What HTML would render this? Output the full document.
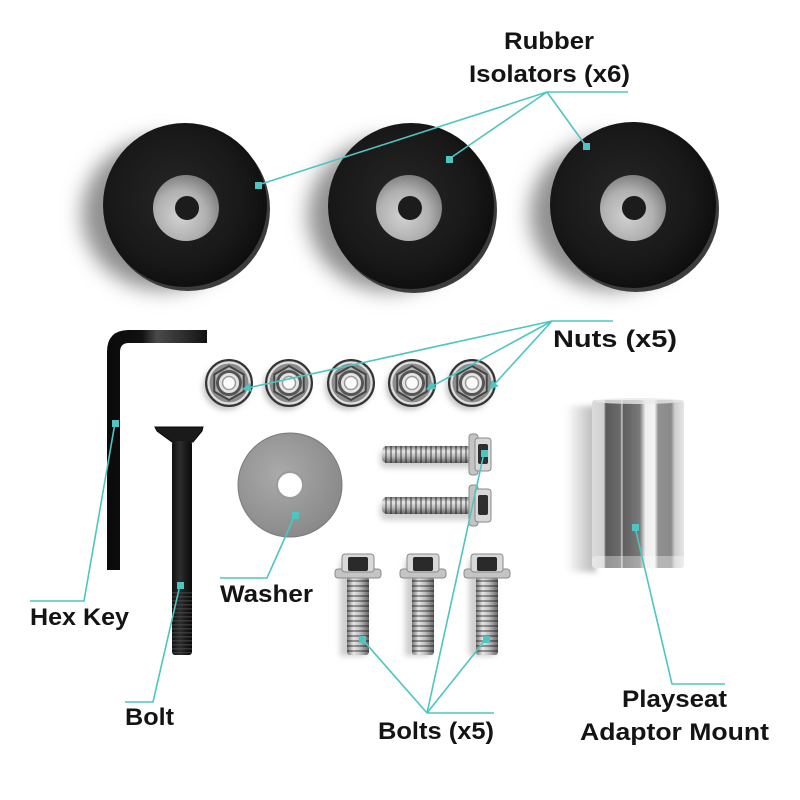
<!DOCTYPE html>
<html><head><meta charset="utf-8">
<style>
html,body{margin:0;padding:0;background:#fff;}
svg{display:block;}
text{font-family:"Liberation Sans",Arial,sans-serif;font-weight:bold;fill:#141414;font-size:24px;}
</style></head>
<body>
<svg width="800" height="800" viewBox="0 0 800 800" xmlns="http://www.w3.org/2000/svg">
<defs>
  <filter id="b10" x="-50%" y="-50%" width="200%" height="200%"><feGaussianBlur stdDeviation="10"/></filter>
  <filter id="b5" x="-50%" y="-50%" width="200%" height="200%"><feGaussianBlur stdDeviation="5"/></filter>
  <filter id="b3" x="-50%" y="-50%" width="200%" height="200%"><feGaussianBlur stdDeviation="3"/></filter>
  <radialGradient id="rub" cx="45%" cy="45%" r="60%">
    <stop offset="0" stop-color="#262626"/><stop offset="0.7" stop-color="#181818"/><stop offset="1" stop-color="#0c0c0c"/>
  </radialGradient>
  <radialGradient id="hub" cx="42%" cy="62%" r="65%">
    <stop offset="0" stop-color="#d2d2d2"/><stop offset="0.6" stop-color="#b0b0b0"/><stop offset="1" stop-color="#7a7a7a"/>
  </radialGradient>
  <radialGradient id="wash" cx="40%" cy="40%" r="70%">
    <stop offset="0" stop-color="#aaaaaa"/><stop offset="1" stop-color="#868686"/>
  </radialGradient>
  <linearGradient id="hexk" x1="0" x2="1">
    <stop offset="0" stop-color="#0a0a0a"/><stop offset="0.35" stop-color="#111"/><stop offset="0.5" stop-color="#4a4a4a"/><stop offset="0.8" stop-color="#2a2a2a"/><stop offset="1" stop-color="#111"/>
  </linearGradient>
  <linearGradient id="blk" x1="0" x2="1">
    <stop offset="0" stop-color="#111"/><stop offset="0.4" stop-color="#2e2e2e"/><stop offset="0.7" stop-color="#1a1a1a"/><stop offset="1" stop-color="#0a0a0a"/>
  </linearGradient>
  <linearGradient id="vsh" x1="0" x2="1">
    <stop offset="0" stop-color="#777"/><stop offset="0.3" stop-color="#e6e6e6"/><stop offset="0.6" stop-color="#bdbdbd"/><stop offset="1" stop-color="#666"/>
  </linearGradient>
  <linearGradient id="hsh" x1="0" x2="0" y1="0" y2="1">
    <stop offset="0" stop-color="#777"/><stop offset="0.3" stop-color="#e6e6e6"/><stop offset="0.6" stop-color="#bdbdbd"/><stop offset="1" stop-color="#666"/>
  </linearGradient>
  <pattern id="vth" width="22" height="5" patternUnits="userSpaceOnUse">
    <rect width="22" height="2" fill="#000" opacity="0.35"/>
  </pattern>
  <pattern id="hth" width="5" height="20" patternUnits="userSpaceOnUse">
    <rect width="2" height="20" fill="#000" opacity="0.35"/>
  </pattern>
  <pattern id="bth" width="20" height="4" patternUnits="userSpaceOnUse">
    <rect width="20" height="1.5" fill="#555" opacity="0.5"/>
  </pattern>
  <linearGradient id="cyl" x1="0" x2="1">
    <stop offset="0" stop-color="#dcdcdc"/>
    <stop offset="0.13" stop-color="#cfcfcf"/>
    <stop offset="0.15" stop-color="#5a5a5a"/>
    <stop offset="0.31" stop-color="#6c6c6c"/>
    <stop offset="0.325" stop-color="#d0d0d0"/>
    <stop offset="0.34" stop-color="#5e5e5e"/>
    <stop offset="0.52" stop-color="#7a7a7a"/>
    <stop offset="0.58" stop-color="#eeeeee"/>
    <stop offset="0.68" stop-color="#f4f4f4"/>
    <stop offset="0.72" stop-color="#909090"/>
    <stop offset="0.86" stop-color="#8a8a8a"/>
    <stop offset="0.9" stop-color="#cdcdcd"/>
    <stop offset="1" stop-color="#e6e6e6"/>
  </linearGradient>
  <linearGradient id="cshad" x1="0" x2="1">
    <stop offset="0" stop-color="#fff"/><stop offset="1" stop-color="#b5b5b5"/>
  </linearGradient>
  <marker id="arr" markerWidth="9" markerHeight="9" refX="8" refY="4.5" orient="auto" markerUnits="userSpaceOnUse">
    <path d="M0,0 L9,4.5 L0,9 z" fill="#4ec5c1"/>
  </marker>
  <g id="nut">
    <circle r="23" fill="#8c8c8c" stroke="#333" stroke-width="2"/>
    <circle r="20.5" fill="none" stroke="#e0e0e0" stroke-width="2"/>
    <polygon points="0,-17 14.7,-8.5 14.7,8.5 0,17 -14.7,8.5 -14.7,-8.5" fill="#b8b8b8" stroke="#444" stroke-width="2"/>
    <circle r="11.5" fill="#e4e4e4" stroke="#555" stroke-width="3"/>
    <circle r="6.5" fill="#fafafa" stroke="#9a9a9a" stroke-width="1.5"/>
  </g>
  <g id="vbolt">
    <rect x="-11" y="577" width="22" height="78" rx="3" fill="url(#vsh)"/>
    <rect x="-11" y="578" width="22" height="76" fill="url(#vth)"/>
    <rect x="-23" y="569" width="46" height="9" rx="3" fill="#c4c4c4" stroke="#8a8a8a"/>
    <rect x="-16" y="554" width="32" height="18" rx="3" fill="#d8d8d8" stroke="#8a8a8a"/>
    <rect x="-10" y="557" width="20" height="14" rx="2" fill="#2a2a2a"/>
  </g>
  <g id="hbolt">
    <rect x="382" y="0" width="90" height="17" rx="5" fill="url(#hsh)"/>
    <rect x="385" y="0" width="86" height="17" fill="url(#hth)"/>
    <rect x="469" y="-12" width="9" height="41" rx="3" fill="#c4c4c4" stroke="#8a8a8a"/>
    <rect x="475" y="-8" width="16" height="33" rx="3" fill="#d8d8d8" stroke="#8a8a8a"/>
    <rect x="478" y="-2" width="10" height="20" rx="2" fill="#2e2e2e"/>
  </g>
</defs>

<rect width="800" height="800" fill="#fff"/>

<!-- Rubber isolators -->
<g>
  <ellipse cx="162" cy="214" rx="80" ry="76" fill="#8f8f8f" filter="url(#b10)"/>
  <ellipse cx="388" cy="215" rx="80" ry="76" fill="#8f8f8f" filter="url(#b10)"/>
  <ellipse cx="610" cy="214" rx="80" ry="76" fill="#8f8f8f" filter="url(#b10)"/>

  <circle cx="188" cy="209" r="82" fill="#3c3c3c"/>
  <circle cx="185" cy="205" r="82" fill="url(#rub)"/>
  <circle cx="186" cy="208" r="33" fill="url(#hub)"/>
  <circle cx="187" cy="208" r="12" fill="#1c1c1c"/>

  <circle cx="414" cy="210" r="83" fill="#3c3c3c"/>
  <circle cx="411" cy="206" r="83" fill="url(#rub)"/>
  <circle cx="409" cy="208" r="33" fill="url(#hub)"/>
  <circle cx="410" cy="208" r="12" fill="#1c1c1c"/>

  <circle cx="636" cy="209" r="83" fill="#3c3c3c"/>
  <circle cx="633" cy="205" r="83" fill="url(#rub)"/>
  <circle cx="633" cy="208" r="33" fill="url(#hub)"/>
  <circle cx="634" cy="208" r="12" fill="#1c1c1c"/>
</g>

<!-- Hex key -->
<path d="M107,570 L107,352 Q107,330 129,330 L207,330 L207,343 L129,343 Q120,343 120,352 L120,570 Z" fill="url(#hexk)"/>

<!-- Nuts -->
<g fill="#c4c4c4" filter="url(#b3)">
  <circle cx="226" cy="387" r="23"/><circle cx="286" cy="387" r="23"/><circle cx="348" cy="387" r="23"/><circle cx="409" cy="387" r="23"/><circle cx="469" cy="387" r="23"/>
</g>
<use href="#nut" x="229" y="383"/>
<use href="#nut" x="289" y="383"/>
<use href="#nut" x="351" y="383"/>
<use href="#nut" x="412" y="383"/>
<use href="#nut" x="472" y="383"/>

<!-- Black bolt -->
<path d="M155,427 L203,427 L202,431 L193,442 L172,442 L157,431 Z" fill="#1a1a1a" stroke="#0a0a0a"/>
<rect x="172" y="441" width="20" height="214" rx="3" fill="url(#blk)"/>
<rect x="172" y="590" width="20" height="63" fill="url(#bth)"/>

<!-- Washer -->
<circle cx="290" cy="485" r="52" fill="url(#wash)" stroke="#7a7a7a"/>
<circle cx="290" cy="485" r="13" fill="#fff" stroke="#9a9a9a" stroke-width="2"/>

<!-- Horizontal bolts -->
<g fill="#cfcfcf" filter="url(#b3)">
  <rect x="380" y="450" width="108" height="18" rx="6"/>
  <rect x="380" y="502" width="108" height="18" rx="6"/>
</g>
<use href="#hbolt" x="0" y="446"/>
<use href="#hbolt" x="0" y="497"/>

<!-- Vertical bolts -->
<g fill="#cfcfcf" filter="url(#b3)">
  <rect x="340" y="560" width="26" height="96"/>
  <rect x="405" y="560" width="26" height="96"/>
  <rect x="469" y="560" width="26" height="96"/>
</g>
<use href="#vbolt" x="358" y="0"/>
<use href="#vbolt" x="423" y="0"/>
<use href="#vbolt" x="487" y="0"/>

<!-- Cylinder -->
<rect x="566" y="406" width="30" height="166" fill="url(#cshad)" filter="url(#b3)"/>
<rect x="592" y="400" width="92" height="168" rx="3" fill="url(#cyl)"/>
<rect x="592" y="556" width="92" height="12" rx="3" fill="#fff" opacity="0.35"/>
<ellipse cx="638" cy="401" rx="44" ry="3" fill="#e8e8e8" opacity="0.8"/>

<!-- Leader lines -->
<g stroke="#4ec5c1" stroke-width="1.6" fill="none">
  <line x1="547" y1="92" x2="628" y2="92"/>
  <line x1="547" y1="92" x2="258" y2="185"/>
  <line x1="547" y1="92" x2="449" y2="159"/>
  <line x1="547" y1="92" x2="586" y2="146"/>

  <line x1="552" y1="321" x2="613" y2="321"/>
  <line x1="552" y1="321" x2="243" y2="389" marker-end="url(#arr)"/>
  <line x1="552" y1="321" x2="427" y2="389" marker-end="url(#arr)"/>
  <line x1="552" y1="321" x2="490" y2="389" marker-end="url(#arr)"/>

  <polyline points="115,423 84,601 30,601"/>
  <polyline points="180,585 153,702 125,702"/>
  <polyline points="295,515 267,578 220,578"/>

  <line x1="427" y1="713" x2="494" y2="713"/>
  <line x1="427" y1="713" x2="362" y2="639"/>
  <line x1="427" y1="713" x2="486" y2="639"/>
  <line x1="427" y1="713" x2="484" y2="453"/>

  <polyline points="635,527 672,684 725,684"/>
</g>
<g fill="#4ec5c1">
  <rect x="255" y="182" width="7" height="7"/>
  <rect x="446" y="156" width="7" height="7"/>
  <rect x="583" y="143" width="7" height="7"/>
  <rect x="112" y="420" width="7" height="7"/>
  <rect x="177" y="582" width="7" height="7"/>
  <rect x="292" y="512" width="7" height="7"/>
  <rect x="359" y="636" width="7" height="7"/>
  <rect x="483" y="636" width="7" height="7"/>
  <rect x="481" y="450" width="7" height="7"/>
  <rect x="632" y="524" width="7" height="7"/>
</g>

<!-- Labels -->
<text x="504" y="49" textLength="90" lengthAdjust="spacingAndGlyphs">Rubber</text>
<text x="469" y="82" textLength="161" lengthAdjust="spacingAndGlyphs">Isolators (x6)</text>
<text x="553" y="347" textLength="124" lengthAdjust="spacingAndGlyphs">Nuts (x5)</text>
<text x="30" y="625" textLength="99" lengthAdjust="spacingAndGlyphs">Hex Key</text>
<text x="220" y="602" textLength="93" lengthAdjust="spacingAndGlyphs">Washer</text>
<text x="125" y="725" textLength="49" lengthAdjust="spacingAndGlyphs">Bolt</text>
<text x="378" y="739" textLength="116" lengthAdjust="spacingAndGlyphs">Bolts (x5)</text>
<text x="622" y="707" textLength="105" lengthAdjust="spacingAndGlyphs">Playseat</text>
<text x="580" y="740" textLength="189" lengthAdjust="spacingAndGlyphs">Adaptor Mount</text>
</svg>
</body></html>
